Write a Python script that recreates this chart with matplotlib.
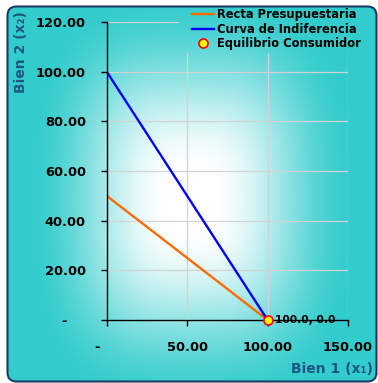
import numpy as np
import matplotlib

matplotlib.use("Agg")
import matplotlib.pyplot as plt
from matplotlib.patches import FancyBboxPatch

# budget line and indifference curve for goods 1 and 2
x_budget = [0, 100]
y_budget = [50, 0]
x_indiff = [0, 100]
y_indiff = [100, 0]
x_equil = [100.0]
y_equil = [0.0]

x_ticks = [0, 50, 100, 150]
y_ticks = [0, 20, 40, 60, 80, 100, 120]

TEAL = np.array([51, 204, 204]) / 255.0
NAVY = "#1F5582"

plt.rcParams["font.family"] = ["DejaVu Sans"]
plt.rcParams["font.weight"] = "bold"

W, H = 378, 383
fig = plt.figure(figsize=(W / 100, H / 100), dpi=100)
fig.patch.set_facecolor("white")

# chart area: centre-out gradient inside a rounded frame
bg = fig.add_axes([0, 0, 1, 1], zorder=-10)
bg.set_xlim(0, W)
bg.set_ylim(H, 0)
bg.axis("off")
yy, xx = np.mgrid[0:H, 0:W]
p = 3.0
d = ((np.abs(xx - 190) / 170.0) ** p + (np.abs(yy - 200) / 215.0) ** p) ** (1 / p)
u = np.clip((d - 0.12) / 0.85, 0, 1)
t = u * u * (3 - 2 * u)
img = (1 - t)[..., None] * np.ones(3) + t[..., None] * TEAL
frame = FancyBboxPatch((7.5, 6.5), W - 9, H - 8, boxstyle="round,pad=0,rounding_size=9",
                       facecolor="none", edgecolor="#1B3A66", linewidth=1.5)
bg.add_patch(frame)
im = bg.imshow(img, extent=(0, W, H, 0), interpolation="bilinear")
im.set_clip_path(frame)

ax = fig.add_axes([106.7 / W, 1 - 320 / H, (348 - 106.7) / W, (320 - 22) / H])
ax.patch.set_alpha(0)
ax.set_xlim(0, 150)
ax.set_ylim(0, 120)

for v in y_ticks[1:]:
    ax.axhline(v, color="#D0D4D4", linewidth=0.9, zorder=0,
               xmax=0.295 if v == 120 else 1)
for v in x_ticks[1:]:
    ax.axvline(v, color="#D0D4D4", linewidth=0.9, zorder=0, ymax=0.896)

ax.plot(x_budget, y_budget, color="#FF6A00", linewidth=1.7, label="Recta Presupuestaria")
ax.plot(x_indiff, y_indiff, color="#0000FF", linewidth=1.7, label="Curva de Indiferencia")
ax.plot(x_equil, y_equil, linestyle="none", marker="o", markersize=6.5,
        markerfacecolor="#FFFF00", markeredgecolor="#FF0000", markeredgewidth=1.2,
        label="Equilibrio Consumidor", zorder=5, clip_on=False)
for xe, ye in zip(x_equil, y_equil):
    ax.annotate(f"{xe:.1f}, {ye:.1f}", (xe, ye), xytext=(5, 0), textcoords="offset points",
                ha="left", va="center", fontsize=7.7, fontweight="bold", color="black")

for s in ["top", "right"]:
    ax.spines[s].set_visible(False)
for s in ["left", "bottom"]:
    ax.spines[s].set_linewidth(1.0)

def fmt(v):
    return "-    " if v == 0 else f"{v:,.2f}"

ax.set_xticks(x_ticks)
ax.set_xticklabels([fmt(v) for v in x_ticks])
ax.set_yticks(y_ticks)
ax.set_yticklabels([fmt(v) for v in y_ticks])
ax.tick_params(direction="out", length=4.5, width=1.0, pad=10.5, labelsize=9.4)
for lab in ax.get_xticklabels() + ax.get_yticklabels():
    lab.set_fontweight("bold")

fig.text(373 / W, 1 - 369 / H, "Bien 1 (x\u2081)", ha="right", va="center",
         fontsize=10, fontweight="bold", color=NAVY)
fig.text(21 / W, 1 - 52 / H, "Bien 2 (x\u2082)", ha="center", va="center", rotation=90,
         fontsize=10, fontweight="bold", color=NAVY)

leg = fig.legend(loc="upper left", bbox_to_anchor=(192 / W, 1 - 8 / H), frameon=False,
                 fontsize=8.3, handlelength=1.9, handletextpad=0.3, labelspacing=0.15,
                 borderpad=0, borderaxespad=0)
for txt in leg.get_texts():
    txt.set_fontweight("bold")

fig.savefig("out.png", dpi=100)
